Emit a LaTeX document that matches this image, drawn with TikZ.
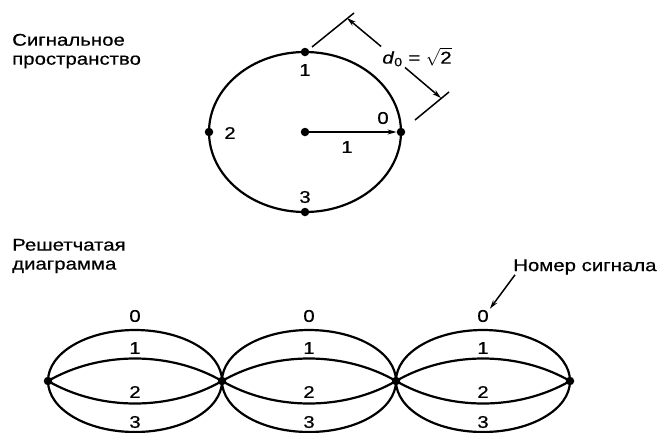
\documentclass[tikz,border=0pt]{standalone}
\usepackage{fontspec}
\setmainfont{Liberation Sans}[FakeStretch=1.2, FakeBold=0.6]
\usetikzlibrary{positioning, arrows.meta}

\begin{document}
\begin{tikzpicture}[
    x=1pt, y=-1pt,
    curve/.style={line width=2.2pt},
    thin line/.style={line width=1.5pt},
    dot/.style={circle, fill, inner sep=0pt, minimum size=8.5pt},
    num/.style={font=\fontsize{17}{19}\selectfont, inner sep=1pt},
    caption/.style={font=\fontsize{17}{19}\selectfont, align=left,
                    inner sep=0pt, anchor=west},
    >={Stealth[length=9pt, width=5pt]}
  ]
  \useasboundingbox (0,0) rectangle (669,432);

  % Signal space
  \node[caption] (space) at (12,51) {Сигнальное\\пространство};
  \node[dot] (c) at (305,132) {};
  \draw[curve] (c) ellipse [x radius=96, y radius=80];
  \node[dot] (s0) at (401,132) {};
  \node[dot] (s1) at (305,52) {};
  \node[dot] (s2) at (209,132) {};
  \node[dot] (s3) at (305,212) {};
  \node[num] (l0) at (383,118) {0};
  \node[num] (l1) at (305,70) {1};
  \node[num] (l2) at (230,133) {2};
  \node[num] (l3) at (305,197) {3};
  \node[num] (r) at (347,147) {1};
  \draw[->, thin line] (c) -- (s0);

  % Distance d0
  \coordinate (e1a) at (312,47);
  \coordinate (e1b) at (354,13);
  \coordinate (e2a) at (415,120);
  \coordinate (e2b) at (449,92);
  \coordinate (m1) at (347,18);
  \coordinate (m2) at (441,98);
  \draw[thin line] (e1a) -- (e1b);
  \draw[thin line] (e2a) -- (e2b);
  \node[num] (dist) at (417,57) {\textit{d}\textsubscript{0} = $\sqrt{\mbox{2}}$};
  \draw[->, thin line] (dist.north west) -- (m1);
  \draw[->, thin line] ([xshift=-12pt]dist.south) -- (m2);

  % Trellis
  \node[caption] (trellis) at (12,256) {Решетчатая\\диаграмма};
  \foreach \i/\x in {0/48,1/222,2/396,3/570}
    \node[dot] (t\i) at (\x,381) {};
  \foreach \i/\j/\cx in {0/1/135,1/2/309,2/3/483} {
    \draw[curve] (\cx,381) ellipse [x radius=87, y radius=51];
    \draw[curve] (t\i.center) .. controls +(52,-30) and +(-52,-30) .. (t\j.center);
    \draw[curve] (t\i.center) .. controls +(52,30) and +(-52,30) .. (t\j.center);
    \node[num] (n\i0) at (\cx,316) {0};
    \node[num] (n\i1) at (\cx,348) {1};
    \node[num] (n\i2) at (\cx,392) {2};
    \node[num] (n\i3) at (\cx,422) {3};
  }

  % Signal number
  \node[caption] (signo) at (513,267) {Номер сигнала};
  \draw[->, thin line] ([xshift=2pt]signo.south west) -- (n20.north east);
\end{tikzpicture}
\end{document}
